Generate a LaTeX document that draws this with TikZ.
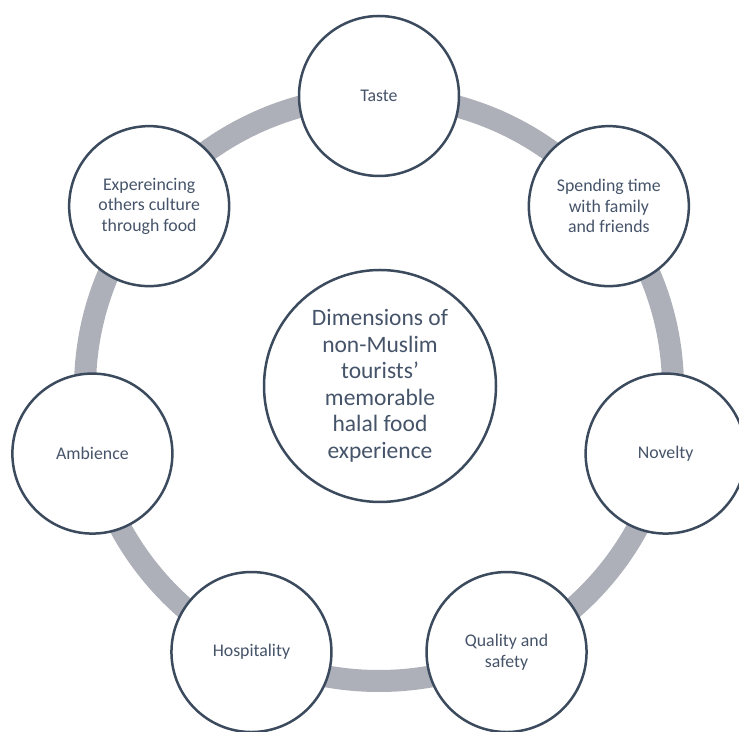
\documentclass[tikz,border=0pt]{standalone}
\usepackage{fontspec}
\setmainfont{Carlito}
\definecolor{ringgrey}{RGB}{173,176,184}
\definecolor{edgeslate}{RGB}{60,74,94}
\definecolor{textslate}{RGB}{70,84,106}
\begin{document}
\begin{tikzpicture}[x=1pt,y=1pt,
  ring/.style={draw=ringgrey, line width=22pt},
  dimnode/.style={circle, draw=edgeslate, line width=2.5pt, fill=white,
    minimum size=160pt, inner sep=0pt, align=center, text=textslate,
    font=\fontsize{17.8}{20.7}\selectfont},
  corenode/.style={dimnode, minimum size=232pt, font=\fontsize{23.5}{26.5}\selectfont}]
\useasboundingbox (0,0) rectangle (739,731);
\coordinate (c) at (379,342.5);
\draw[ring] (c) ellipse [x radius=294pt, y radius=292.5pt];
\node[corenode] (core) at (380,345) {Dimensions of\\non-Muslim\\tourists’\\memorable\\halal food\\experience};
\node[dimnode] (taste) at ({379+294*cos(90)},{342.5+292.5*sin(90)}) {Taste};
\node[dimnode] (spend) at ({379+294*cos(90-360/7)},{342.5+292.5*sin(90-360/7)}) {Spending time\\with family\\and friends};
\node[dimnode] (novel) at ({379+294*cos(90-2*360/7)},{342.5+292.5*sin(90-2*360/7)}) {Novelty};
\node[dimnode] (quality) at ({379+294*cos(90-3*360/7)},{342.5+292.5*sin(90-3*360/7)}) {Quality and\\safety};
\node[dimnode] (hosp) at ({379+294*cos(90-4*360/7)},{342.5+292.5*sin(90-4*360/7)}) {Hospitality};
\node[dimnode] (amb) at ({379+294*cos(90-5*360/7)},{342.5+292.5*sin(90-5*360/7)}) {Ambience};
\node[dimnode] (exp) at ({379+294*cos(90-6*360/7)},{342.5+292.5*sin(90-6*360/7)}) {Expereincing\\others culture\\through food};
\end{tikzpicture}
\end{document}
